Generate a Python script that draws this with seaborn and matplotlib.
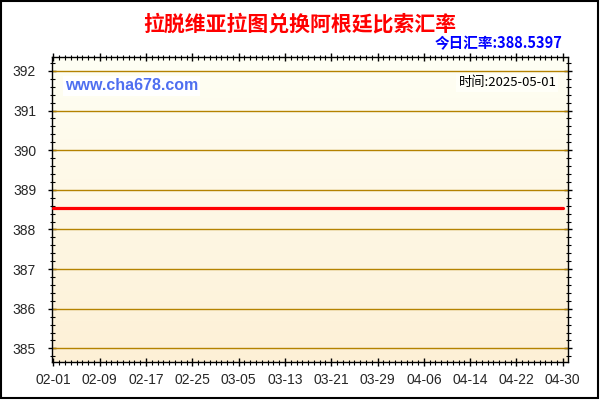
import matplotlib.pyplot as plt
import seaborn as sns
import numpy as np
import pandas as pd
from matplotlib.colors import LinearSegmentedColormap
from matplotlib.patches import Rectangle

# Data
dates = ['02-01', '02-09', '02-17', '02-25', '03-05', '03-13',
         '03-21', '03-29', '04-06', '04-14', '04-22', '04-30']
day_offsets = [0, 8, 16, 24, 32, 40, 48, 56, 64, 72, 80, 88]
rates = [388.5397, 388.5397, 388.5397, 388.5397, 388.5397, 388.5397,
         388.5397, 388.5397, 388.5397, 388.5397, 388.5397, 388.5397]
y_ticks = [385, 386, 387, 388, 389, 390, 391, 392]

title = '拉脱维亚拉图兑换阿根廷比索汇率'
today_text = '今日汇率:388.5397'
site_text = 'www.cha678.com'
time_text = '时间:2025-05-01'

df = pd.DataFrame({'day': day_offsets, 'rate': rates})

sns.set_style('white')
plt.rcParams['font.family'] = ['Liberation Sans', 'Noto Sans CJK SC', 'DejaVu Sans']

fig = plt.figure(figsize=(6, 4), dpi=100)
ax = fig.add_axes([51.7 / 600, 1 - 361.7 / 400, (568 - 51.7) / 600, (361.7 - 57) / 400])

# gradient background (light ivory at top, cream at bottom)
cmap = LinearSegmentedColormap.from_list('bg', ['#fffff4', '#fdf0d6'])
grad = np.linspace(0, 1, 256).reshape(-1, 1)
ax.imshow(grad, aspect='auto', cmap=cmap, extent=[0, 1, 0, 1],
          transform=ax.transAxes, zorder=0)

for y in y_ticks:
    ax.axhline(y, color='#b48200', lw=1.0, zorder=1)

sns.lineplot(data=df, x='day', y='rate', ax=ax, color='#ff0000', lw=2.3, zorder=3)

ax.set_xlim(-0.3, 88.9)
ax.set_ylim(384.665, 392.35)
ax.set_xticks(day_offsets)
ax.set_xticklabels(dates)
ax.set_xticks(np.arange(0, 89, 1), minor=True)
ax.set_yticks(y_ticks)
ax.set_yticklabels([str(v) for v in y_ticks])
ax.set_yticks(np.arange(384.8, 392.4, 0.2), minor=True)
ax.set_xlabel('')
ax.set_ylabel('')

ax.tick_params(which='major', direction='inout', length=5.5, width=1, color='black',
               labelsize=10, top=True, right=True, left=True, bottom=True)
ax.tick_params(which='minor', direction='inout', length=3.6, width=0.8, color='black',
               top=True, right=True, left=True, bottom=True)
ax.tick_params(axis='x', pad=5.5)
ax.tick_params(axis='y', pad=8.5)
for s in ax.spines.values():
    s.set_color('black')
    s.set_linewidth(1)
    s.set_visible(True)

fig.text(300 / 600, 1 - 24 / 400, title, color='#ff0000', fontsize=15, fontweight='bold',
         ha='center', va='center', family=['Noto Sans CJK SC', 'DejaVu Sans'])
fig.text(563 / 600, 1 - 43 / 400, today_text, color='#0000ff', fontsize=10.5,
         fontweight='bold', ha='right', va='center',
         family=['Noto Sans CJK SC', 'DejaVu Sans'])
ax.text(0.025, 0.905, site_text, transform=ax.transAxes, color='#4f6ff0',
        fontsize=11.5, fontweight='bold', ha='left', va='center', zorder=4,
        bbox=dict(facecolor='white', edgecolor='none', pad=1.5))
ax.text(0.9775, 0.915, time_text, transform=ax.transAxes, color='black',
        fontsize=9.5, ha='right', va='center', zorder=4,
        family=['Noto Sans CJK SC', 'DejaVu Sans'],
        bbox=dict(facecolor='#fffff8', edgecolor='none', pad=1.5))

# outer border
fig.patches.append(Rectangle((0.002, 0.004), 0.994, 0.994, transform=fig.transFigure,
                             fill=False, edgecolor='black', lw=1.5))

fig.savefig('out.png', dpi=100, facecolor='white')
